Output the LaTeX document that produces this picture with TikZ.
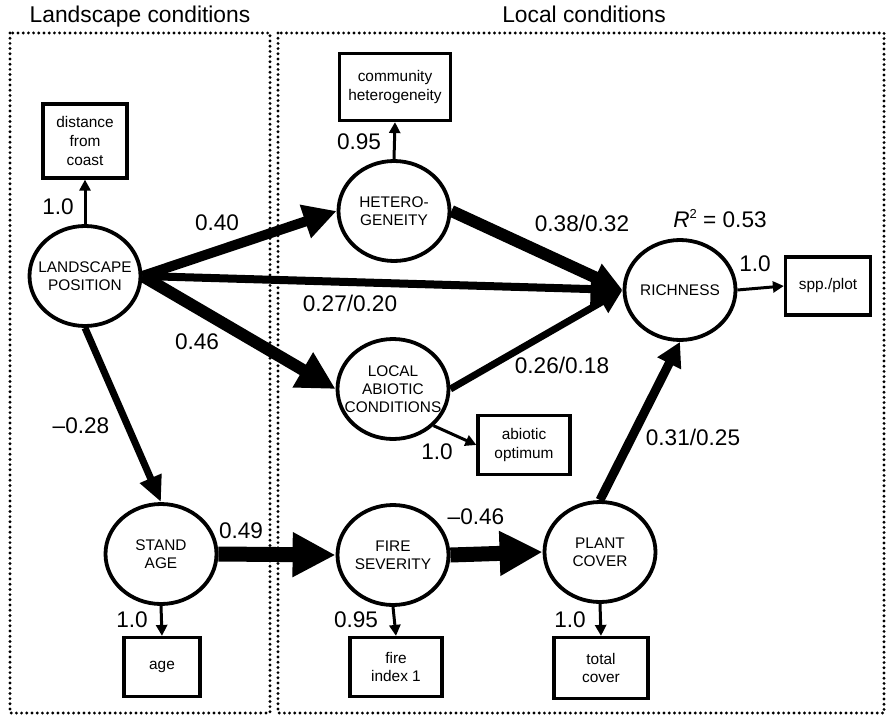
\documentclass[tikz,border=0pt]{standalone}
\usepackage{fontspec}
\setmainfont{Liberation Sans}
\usetikzlibrary{shapes.geometric,arrows.meta}
\tikzset{>=latex}
\tikzset{
    latent/.style={draw, ellipse, line width=1.9pt, minimum width=55.5pt, minimum height=50pt, inner sep=0pt},
    lattext/.style={font=\fontsize{7.7}{9}\selectfont, align=center},
    obs/.style={draw, rectangle, line width=1.6pt, inner sep=1pt, align=center, font=\fontsize{7.7}{9.3}\selectfont},
    coef/.style={font=\fontsize{11.3}{13}\selectfont, inner sep=0pt},
    title/.style={font=\fontsize{11.4}{13}\selectfont, inner sep=0pt, anchor=base},
    region/.style={line width=1.6pt, line cap=round, dash pattern=on 0pt off 2.6pt},
    thinpath/.style={line width=1.5pt, -{Triangle[length=5.5pt,width=5.5pt]}},
    midpath/.style={line width=3.5pt, -{Triangle[length=13pt,width=11pt]}},
    thickpath/.style={line width=5pt, -{Triangle[length=16.5pt,width=16.5pt]}},
    heavypath/.style={line width=6pt, -{Triangle[length=19pt,width=19pt]}},
    hugepath/.style={line width=7.5pt, -{Triangle[length=21.5pt,width=21pt]}}
}

\begin{document}
\begin{tikzpicture}[x=0.5pt,y=-0.5pt]
    \useasboundingbox (0,0) rectangle (887,717);

    % the two panels
    \draw[region] (10,33) rectangle (270,713);
    \draw[region] (278,33) rectangle (884,713);
    \node[title] (tland) at (140,23) {Landscape conditions};
    \node[title] (tlocal) at (584,23) {Local conditions};

    % latent variables
    \node[latent, label={[lattext]center:LANDSCAPE\\POSITION}] (lp) at (85,276) {};
    \node[latent, label={[lattext]center:HETERO-\\GENEITY}] (het) at (394,211) {};
    \node[latent, label={[lattext]center:LOCAL\\ABIOTIC\\CONDITIONS}] (local) at (393,389) {};
    \node[latent, label={[lattext]center:RICHNESS}] (rich) at (680,290) {};
    \node[latent, label={[lattext]center:STAND\\AGE}] (stand) at (161,554) {};
    \node[latent, label={[lattext]center:FIRE\\SEVERITY}] (fire) at (393,555) {};
    \node[latent, label={[lattext]center:PLANT\\COVER}] (plant) at (600,552) {};

    % indicators
    \node[obs, minimum width=42pt, minimum height=37pt] (dist) at (85,141) {distance\\from\\coast};
    \node[obs, minimum width=55.5pt, minimum height=33.5pt] (comm) at (395,87) {community\\heterogeneity};
    \node[obs, minimum width=42.5pt, minimum height=29pt] (spp) at (828,286) {spp./plot};
    \node[obs, minimum width=46pt, minimum height=29.5pt] (abio) at (524,445) {abiotic\\optimum};
    \node[obs, minimum width=38pt, minimum height=29.5pt] (age) at (162,667) {age};
    \node[obs, minimum width=46pt, minimum height=29.5pt] (fidx) at (396,667) {fire\\index 1};
    \node[obs, minimum width=47pt, minimum height=30.5pt] (tot) at (601,668) {total\\cover};

    % paths
    \draw[thinpath] (lp.north) -- (dist.south);
    \draw[thinpath] (het.north) -- (comm.south);
    \draw[thinpath] (rich.east) -- (spp.west);
    \draw[thinpath] (local.south east) -- (abio.west);
    \draw[thinpath] (stand.south) -- (age.north);
    \draw[thinpath] (fire.south) -- (fidx.north);
    \draw[thinpath] (plant.south) -- (tot.north);

    \draw[thickpath] (lp.east) -- (het.west);
    \draw[line width=4pt, -{Triangle[length=16pt,width=15pt]}] (lp.east) -- (rich.west);
    \draw[heavypath] (lp.east) -- (local.west);
    \draw[midpath] (lp.south) -- (stand.north);
    \draw[line width=6pt, -{Triangle[length=15pt,width=14pt]}] (het.east) -- (rich.west);
    \draw[line width=3.5pt, -{Triangle[length=12pt,width=12pt]}] (local.east) -- (rich.west);
    \draw[line width=4.5pt, -{Triangle[length=12pt,width=12.5pt]}] (plant.north) -- (rich.south);
    \draw[hugepath] (stand.east) -- (fire.west);
    \draw[hugepath] (fire.east) -- (plant.west);

    % coefficients
    \node[coef] (k-lp-dist) at (58,207) {1.0};
    \node[coef] (k-het-comm) at (359,142) {0.95};
    \node[coef] (k-lp-het) at (217,223) {0.40};
    \node[coef] (k-lp-rich) at (350,303) {0.27/0.20};
    \node[coef] (k-lp-local) at (197,342) {0.46};
    \node[coef] (k-lp-stand) at (81,426) {--0.28};
    \node[coef] (k-het-rich) at (582,223) {0.38/0.32};
    \node[coef, anchor=base] (r2) at (720,227) {\textit{R}\raisebox{0.75ex}{\fontsize{6.5}{7}\selectfont 2} = 0.53};
    \node[coef] (k-local-rich) at (562,365) {0.26/0.18};
    \node[coef] (k-local-abio) at (437,452) {1.0};
    \node[coef] (k-plant-rich) at (693,437) {0.31/0.25};
    \node[coef] (k-rich-spp) at (755,264) {1.0};
    \node[coef] (k-stand-fire) at (241,531) {0.49};
    \node[coef] (k-fire-plant) at (476,517) {--0.46};
    \node[coef] (k-stand-age) at (132,620) {1.0};
    \node[coef] (k-fire-idx) at (356,620) {0.95};
    \node[coef] (k-plant-tot) at (570,620) {1.0};

\end{tikzpicture}
\end{document}
